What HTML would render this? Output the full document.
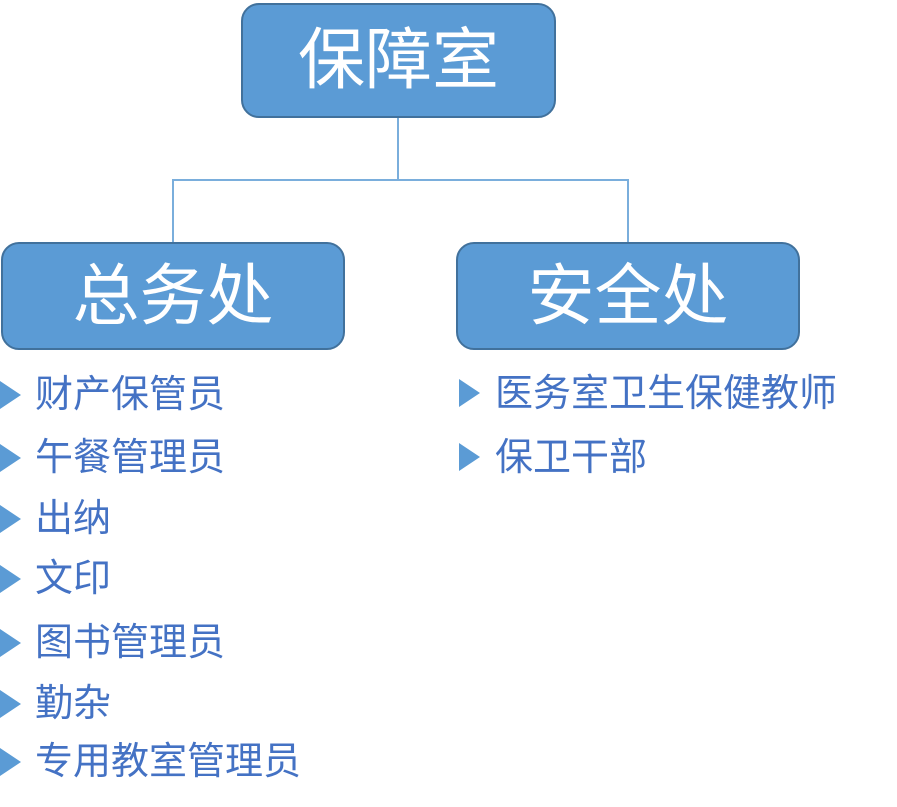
<!DOCTYPE html>
<html><head><meta charset="utf-8"><style>
body{margin:0;width:897px;height:807px;background:#fff;position:relative;overflow:hidden;font-family:"Liberation Sans","Noto Sans CJK SC",sans-serif}
.box{position:absolute;background:#5b9bd5;border:2px solid #41719c;border-radius:18px;box-sizing:border-box;color:#fff;display:flex;align-items:center;justify-content:center;font-size:67px;line-height:1}
.it{position:absolute;color:#4472c4;font-size:38px;line-height:1;white-space:nowrap}
.tri{position:absolute;width:0;height:0;border-top:14px solid transparent;border-bottom:14px solid transparent;border-left:21px solid #5b9bd5}
.l{position:absolute;background:#7aaedc}
</style></head><body>
<div class="l" style="left:397px;top:117px;width:2px;height:64px"></div>
<div class="l" style="left:172px;top:179px;width:457px;height:2px"></div>
<div class="l" style="left:172px;top:179px;width:2px;height:64px"></div>
<div class="l" style="left:627px;top:179px;width:2px;height:64px"></div>
<div class="box" style="left:241px;top:3px;width:315px;height:115px">保障室</div>
<div class="box" style="left:1px;top:242px;width:344px;height:108px">总务处</div>
<div class="box" style="left:456px;top:242px;width:344px;height:108px">安全处</div>
<div class="tri" style="left:0;top:381px"></div><div class="it" style="left:35px;top:376px">财产保管员</div>
<div class="tri" style="left:0;top:444px"></div><div class="it" style="left:35px;top:439px">午餐管理员</div>
<div class="tri" style="left:0;top:505px"></div><div class="it" style="left:35px;top:500px">出纳</div>
<div class="tri" style="left:0;top:565px"></div><div class="it" style="left:35px;top:560px">文印</div>
<div class="tri" style="left:0;top:629px"></div><div class="it" style="left:35px;top:624px">图书管理员</div>
<div class="tri" style="left:0;top:690px"></div><div class="it" style="left:35px;top:685px">勤杂</div>
<div class="tri" style="left:0;top:748px"></div><div class="it" style="left:35px;top:743px">专用教室管理员</div>
<div class="tri" style="left:459px;top:379px"></div><div class="it" style="left:495px;top:375px">医务室卫生保健教师</div>
<div class="tri" style="left:459px;top:443px"></div><div class="it" style="left:495px;top:439px">保卫干部</div>
</body></html>
